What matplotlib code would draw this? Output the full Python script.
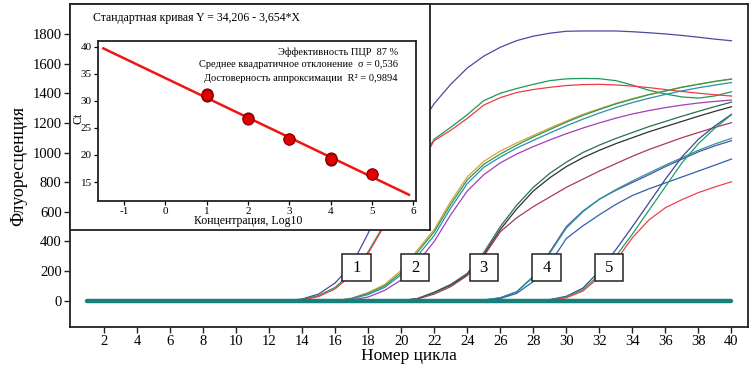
import numpy as np
import matplotlib
matplotlib.use("Agg")
import matplotlib.pyplot as plt
from matplotlib.patches import Rectangle

plt.rcParams['font.family'] = ['Liberation Serif', 'DejaVu Serif']
plt.rcParams['axes.unicode_minus'] = False

# ---------------- data ----------------
# amplification curves: (start cycle, values from start cycle to cycle 40)
blue1_start, blue1 = 13, [0, 12, 45, 120, 240, 455, 720, 960, 1160, 1330, 1460, 1570, 1650, 1710,
                          1755, 1785, 1805, 1818, 1820, 1820, 1820, 1815, 1808, 1800, 1790, 1778, 1765, 1754]
green1_start, green1 = 13, [0, 8, 35, 90, 190, 330, 520, 720, 900, 1090, 1170, 1255, 1350, 1400,
                            1432, 1460, 1485, 1497, 1500, 1498, 1485, 1455, 1420, 1395, 1375, 1367, 1382, 1410]
red1_start, red1 = 13, [0, 5, 28, 80, 175, 320, 510, 710, 890, 1080, 1150, 1230, 1320, 1370,
                        1405, 1425, 1440, 1452, 1458, 1460, 1456, 1448, 1438, 1425, 1412, 1400, 1390, 1381]
orange2_start, orange2 = 16, [0, 18, 55, 110, 205, 345, 480, 670, 835, 940, 1010, 1065, 1115, 1165, 1212,
                              1258, 1295, 1332, 1363, 1392, 1417, 1441, 1462, 1480, 1495]
green2_start, green2 = 16, [0, 15, 50, 100, 190, 330, 465, 650, 815, 920, 990, 1050, 1105, 1155, 1205,
                            1250, 1290, 1328, 1360, 1390, 1415, 1440, 1460, 1480, 1496]
teal2_start, teal2 = 16, [0, 12, 42, 90, 175, 305, 440, 625, 790, 900, 970, 1030, 1082, 1132, 1180,
                          1225, 1266, 1304, 1337, 1366, 1392, 1416, 1437, 1455, 1472]
purple2_start, purple2 = 16, [0, 5, 25, 70, 140, 260, 400, 580, 740, 850, 930, 990, 1040, 1085, 1127,
                              1165, 1200, 1232, 1260, 1283, 1303, 1320, 1334, 1345, 1354]
black3_start, black3 = 20, [0, 15, 55, 105, 175, 310, 480, 620, 740, 830, 905, 965, 1015, 1060, 1100,
                            1140, 1175, 1210, 1245, 1278, 1309]
green3_start, green3 = 20, [0, 15, 58, 110, 185, 325, 500, 645, 765, 860, 935, 1000, 1050, 1095, 1135,
                            1175, 1210, 1245, 1278, 1310, 1340]
maroon3_start, maroon3 = 20, [0, 12, 45, 95, 170, 300, 465, 560, 635, 700, 765, 820, 875, 925, 975,
                              1020, 1060, 1100, 1135, 1170, 1201]
pblue4_start, pblue4 = 24, [0, 5, 20, 60, 160, 330, 500, 605, 685, 745, 798, 850, 905, 955, 1005, 1045, 1080]
teal4_start, teal4 = 24, [0, 5, 20, 62, 165, 320, 490, 600, 685, 750, 808, 862, 915, 965, 1015, 1058, 1096]
blue4_start, blue4 = 24, [0, 3, 15, 50, 130, 250, 420, 505, 580, 650, 710, 755, 795, 835, 875, 915, 956]
blue5_start, blue5 = 28, [0, 8, 30, 85, 200, 345, 500, 660, 820, 970, 1090, 1180, 1258]
green5_start, green5 = 28, [0, 5, 25, 75, 175, 300, 450, 610, 770, 930, 1060, 1165, 1255]
red5_start, red5 = 28, [0, 3, 20, 65, 160, 270, 425, 545, 628, 682, 730, 768, 803]

curves = [
    (blue1_start, blue1, '#4a4aa0'),
    (green1_start, green1, '#1a9a5a'),
    (red1_start, red1, '#f03a48'),
    (orange2_start, orange2, '#e0a030'),
    (green2_start, green2, '#2a9a50'),
    (teal2_start, teal2, '#2a8fb0'),
    (purple2_start, purple2, '#a040b8'),
    (black3_start, black3, '#303030'),
    (green3_start, green3, '#2a7048'),
    (maroon3_start, maroon3, '#a83868'),
    (pblue4_start, pblue4, '#5050b0'),
    (teal4_start, teal4, '#2a9a90'),
    (blue4_start, blue4, '#3060b0'),
    (blue5_start, blue5, '#404898'),
    (green5_start, green5, '#20a060'),
    (red5_start, red5, '#f04050'),
]

baseline_cycles = [1, 40]
baseline_values = [0, 0]

box_labels = ['1', '2', '3', '4', '5']
box_cycles = [17.3, 20.85, 25.0, 28.8, 32.6]
box_level = 224

x_ticks = list(range(2, 41, 2))
y_ticks = list(range(0, 1801, 200))

# standard curve inset
conc_log = [1, 1, 1, 2, 2, 3, 3, 4, 4, 4, 5, 5]
ct_values = [31.3, 30.8, 31.0, 26.8, 26.6, 22.9, 23.0, 19.5, 19.0, 19.2, 16.5, 16.4]
fit_intercept = 34.206
fit_slope = -3.654
fit_x_range = [-1.5, 5.9]
inset_title = 'Стандартная кривая Y = 34,206 - 3,654*X'
inset_lines = ['Эффективность ПЦР  87 %',
               'Среднее квадратичное отклонение  σ = 0,536',
               'Достоверность аппроксимации  R² = 0,9894']

# ---------------- figure ----------------
W, H = 756, 372
fig = plt.figure(figsize=(W / 100, H / 100), dpi=100)

def fr(l, t, r, b):
    return [l / W, 1 - b / H, (r - l) / W, (b - t) / H]

ax = fig.add_axes(fr(70, 4, 748, 327))
for start, vals, col in curves:
    cyc = np.arange(start, start + len(vals))
    ax.plot(cyc, vals, color=col, lw=0.9, zorder=2)
ax.plot(baseline_cycles, baseline_values, color='#17807a', lw=3.2,
        solid_capstyle='round', zorder=3)

bw, bh = 1.72, 182
for lab, cx in zip(box_labels, box_cycles):
    ax.add_patch(Rectangle((cx - bw / 2, box_level - bh / 2), bw, bh, facecolor='white',
                           edgecolor='#222222', lw=1.1, zorder=5))
    ax.text(cx, box_level, lab, ha='center', va='center', fontsize=12, zorder=6)

ax.set_xlim(-0.05, 41.0)
ax.set_ylim(-177, 2002)
ax.set_xticks(x_ticks)
ax.set_yticks(y_ticks)
ax.tick_params(direction='out', length=4.5, width=1, labelsize=10.5, pad=1.5, color='#222222')
for s in ax.spines.values():
    s.set_linewidth(1.3)
    s.set_color('#222222')
ax.set_xlabel('Номер цикла', fontsize=12.5, labelpad=0)
ax.set_ylabel('Флуоресценция', fontsize=13, labelpad=4)

# inset outer box
box_ax = fig.add_axes(fr(70, 4, 430, 230))
box_ax.set_xticks([])
box_ax.set_yticks([])
box_ax.set_facecolor('white')
for s in box_ax.spines.values():
    s.set_linewidth(1.3)
    s.set_color('#222222')
box_ax.text((93 - 70) / 360, 1 - (18 - 4) / 226, inset_title, transform=box_ax.transAxes,
            ha='left', va='center', fontsize=8.5)

# inset plot
iax = fig.add_axes(fr(98, 41, 416, 201))
xf = np.array(fit_x_range)
iax.plot(xf, fit_intercept + fit_slope * xf, color='#ee1515', lw=1.8, zorder=2)
iax.plot(conc_log, ct_values, 'o', color='#e00000', mec='#8a0000', mew=0.8, ms=8, zorder=3)
iax.set_xlim(-1.63, 6.07)
iax.set_ylim(11.49, 41.05)
iax.set_xticks(range(-1, 7))
iax.set_yticks(range(15, 41, 5))
iax.tick_params(direction='out', length=3, width=0.9, labelsize=8, pad=1.5)
for s in iax.spines.values():
    s.set_linewidth(1.3)
    s.set_color('#222222')
iax.set_xlabel('Концентрация, Log10', fontsize=8.5)
iax.xaxis.set_label_coords((248 - 98) / 318, (201 - 221) / 160)
iax.xaxis.label.set_va('center')
iax.set_ylabel('Ct', fontsize=8.5)
iax.yaxis.set_label_coords((79 - 98) / 318, (201 - 118) / 160)
iax.yaxis.label.set_va('center')
for i, line in enumerate(inset_lines):
    iax.text((398 - 98) / 318, (201 - [52, 65, 79][i]) / 160, line, transform=iax.transAxes,
             ha='right', va='center', fontsize=7.5)

fig.savefig('out.png', dpi=100)
